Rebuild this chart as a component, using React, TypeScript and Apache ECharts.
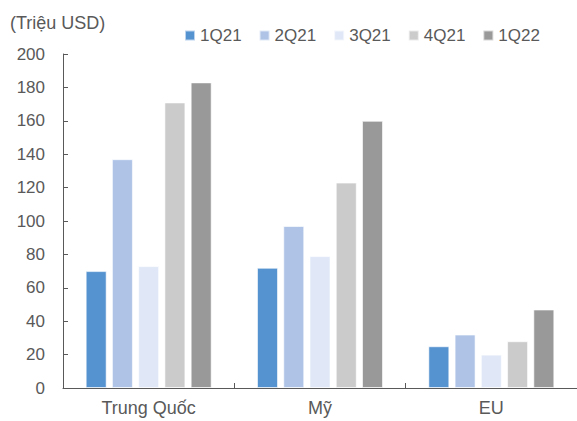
import React, { useEffect, useRef } from "react";
import * as echarts from "echarts";

const categories = ["Trung Quốc", "Mỹ", "EU"];
const seriesNames = ["1Q21", "2Q21", "3Q21", "4Q21", "1Q22"];
const q1_21 = [70, 72, 25];
const q2_21 = [137, 97, 32];
const q3_21 = [73, 79, 20];
const q4_21 = [171, 123, 28];
const q1_22 = [183, 160, 47];
const seriesValues = [q1_21, q2_21, q3_21, q4_21, q1_22];
const colors = ["#5592D0", "#AEC3E6", "#E0E8F7", "#CBCBCB", "#999999"];
const unitLabel = "(Triệu USD)";

const FONT = "'Liberation Sans', Arial, sans-serif";
const TXT = "#595959";
const FS = 17;

export default function App() {
  const ref = useRef<HTMLDivElement>(null);
  useEffect(() => {
    if (!ref.current) return;
    const chart = echarts.init(ref.current, null, { renderer: "svg" });
    chart.setOption({
      animation: false,
      backgroundColor: "#ffffff",
      textStyle: { fontFamily: FONT },
      title: {
        text: unitLabel,
        left: 5,
        top: 9,
        textStyle: { fontFamily: FONT, fontSize: 18, fontWeight: "normal", color: TXT },
      },
      legend: {
        data: seriesNames,
        left: 179,
        top: 22,
        itemWidth: 10,
        itemHeight: 10,
        itemGap: 17,
        icon: "rect",
        textStyle: { fontFamily: FONT, fontSize: FS, color: TXT },
      },
      grid: { left: 63, right: 0, top: 54, bottom: 33, containLabel: false },
      xAxis: {
        type: "category",
        data: categories,
        axisLine: { lineStyle: { color: "#595959", width: 1 } },
        axisTick: { show: true, inside: true, length: 5, lineStyle: { color: "#595959" } },
        axisLabel: { fontFamily: FONT, fontSize: 18, color: TXT, margin: 11 },
      },
      yAxis: {
        type: "value",
        min: 0,
        max: 200,
        interval: 20,
        splitLine: { show: false },
        axisLine: { show: true, lineStyle: { color: "#595959", width: 1 } },
        axisTick: { show: true, inside: true, length: 5, lineStyle: { color: "#595959" } },
        axisLabel: { fontFamily: FONT, fontSize: FS, color: TXT, margin: 18 },
      },
      series: seriesNames.map((name, i) => ({
        name,
        type: "bar",
        data: seriesValues[i],
        barWidth: 21,
        barGap: "25%",
        itemStyle: { color: colors[i], borderColor: "rgba(255,255,255,0.6)", borderWidth: 1 },
      })),
    });
    return () => chart.dispose();
  }, []);
  return (
    <div
      ref={ref}
      style={{ position: "fixed", left: 0, top: 0, width: 577, height: 421 }}
    />
  );
}
